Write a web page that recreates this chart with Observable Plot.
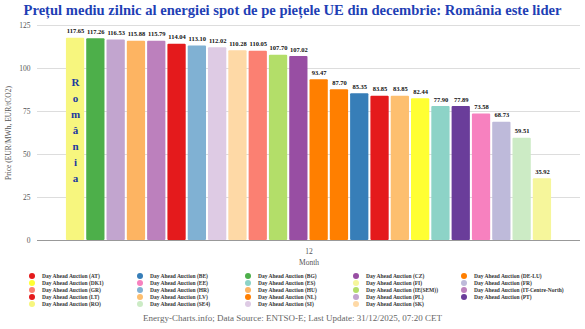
<!DOCTYPE html>
<html>
<head>
<meta charset="utf-8">
<script src="https://cdn.jsdelivr.net/npm/d3@7"></script>
<script src="https://cdn.jsdelivr.net/npm/@observablehq/plot@0.6"></script>
<style>
  html, body { margin: 0; padding: 0; background: #fff; }
  body { width: 585px; height: 329px; overflow: hidden; font-family: "Liberation Serif", serif; }
  #title { height: 20px; line-height: 20px; text-align: center; font-weight: bold; font-size: 14.6px; color: #1f3fb5; white-space: nowrap; }
  #legend { display: grid; grid-template-columns: repeat(5, 108px); margin-left: 29px; margin-top: 2px; }
  .item { display: flex; align-items: center; height: 7px; font-size: 5.5px; font-weight: bold; color: #333; white-space: nowrap; }
  .dot { width: 6px; height: 6px; border-radius: 50%; margin-right: 7px; flex: none; }
  #caption { text-align: center; font-size: 9px; color: #666; margin-top: 6px; }
</style>
</head>
<body>
<div id="title">Prețul mediu zilnic al energiei spot de pe piețele UE din decembrie: România este lider</div>
<div id="chart"></div>
<div id="legend"></div>
<div id="caption">Energy-Charts.info; Data Source: ENTSO-E; Last Update: 31/12/2025, 07:20 CET</div>
<script>
const month = "12";
const countries = ["RO","BG","PL","HU","IT-Centre-North","AT","HR","SI","SK","GR","IE(SEM)","CZ","NL","DE-LU","BE","LT","LV","DK1","ES","PT","EE","FR","SE4","FI"];
const prices = [117.65,117.26,116.53,115.88,115.79,114.04,113.10,112.02,110.28,110.05,107.70,107.02,93.47,87.70,85.35,83.85,83.85,82.44,77.90,77.89,73.58,68.73,59.51,35.92];
const colors = ["#f7f67e","#4daf4a","#c2a5cf","#fdb462","#bc80bd","#e41a1c","#80b1d3","#decbe4","#fed9a6","#fb8072","#b3de69","#984ea3","#ff7f00","#ff7f00","#377eb8","#e41a1c","#fdbf6f","#ffff33","#8dd3c7","#6a3d9a","#f781bf","#bebada","#ccebc5","#f6f69b"];
const yTicks = [0,25,50,75,100,125];
const highlight = "România";

const data = countries.map((c, i) => ({month, country: c, price: prices[i], color: colors[i]}));

const chart = Plot.plot({
  width: 585,
  height: 250,
  marginLeft: 37,
  marginRight: 5,
  marginTop: 5,
  marginBottom: 30,
  style: {fontFamily: "Liberation Serif", fontSize: "7.5px", color: "#555", background: "white", overflow: "visible"},
  fx: {padding: 0, label: "Month", labelAnchor: "center", tickSize: 0, tickPadding: 8, labelOffset: 24},
  x: {axis: null, domain: countries, paddingInner: 0.1, paddingOuter: 1.425, round: false},
  y: {domain: [0, 125], ticks: yTicks, grid: true, tickSize: 0, tickPadding: 7,
      label: "Price (EUR/MWh, EUR/tCO2)", labelAnchor: "center", labelOffset: 32, labelArrow: "none"},
  color: {type: "identity"},
  marks: [
    Plot.gridY(yTicks, {stroke: "#ddd", strokeOpacity: 1}),
    Plot.barY(data, {fx: "month", x: "country", y: "price", fill: "color", rx: 1}),
    Plot.ruleY([0], {stroke: "#999"}),
    Plot.text(data, {fx: "month", x: "country", y: "price", text: d => d.price.toFixed(2), dy: -7, fontWeight: "bold", fill: "#111", fontSize: 6.5}),
    Plot.text([data[0]], {fx: "month", x: "country", text: () => highlight.split("").join("\n"),
      frameAnchor: "top", lineAnchor: "top", dy: 49, lineHeight: 1.45, fontSize: 11, fontWeight: "bold", fill: "#1c3aa0"})
  ]
});
document.getElementById("chart").appendChild(chart);

const legend = document.getElementById("legend");
data.slice().sort((a, b) => d3.ascending(a.country, b.country)).forEach(d => {
  const item = document.createElement("div");
  item.className = "item";
  const dot = document.createElement("span");
  dot.className = "dot";
  dot.style.background = d.color;
  const label = document.createElement("span");
  label.textContent = `Day Ahead Auction (${d.country})`;
  item.appendChild(dot);
  item.appendChild(label);
  legend.appendChild(item);
});
</script>
</body>
</html>
